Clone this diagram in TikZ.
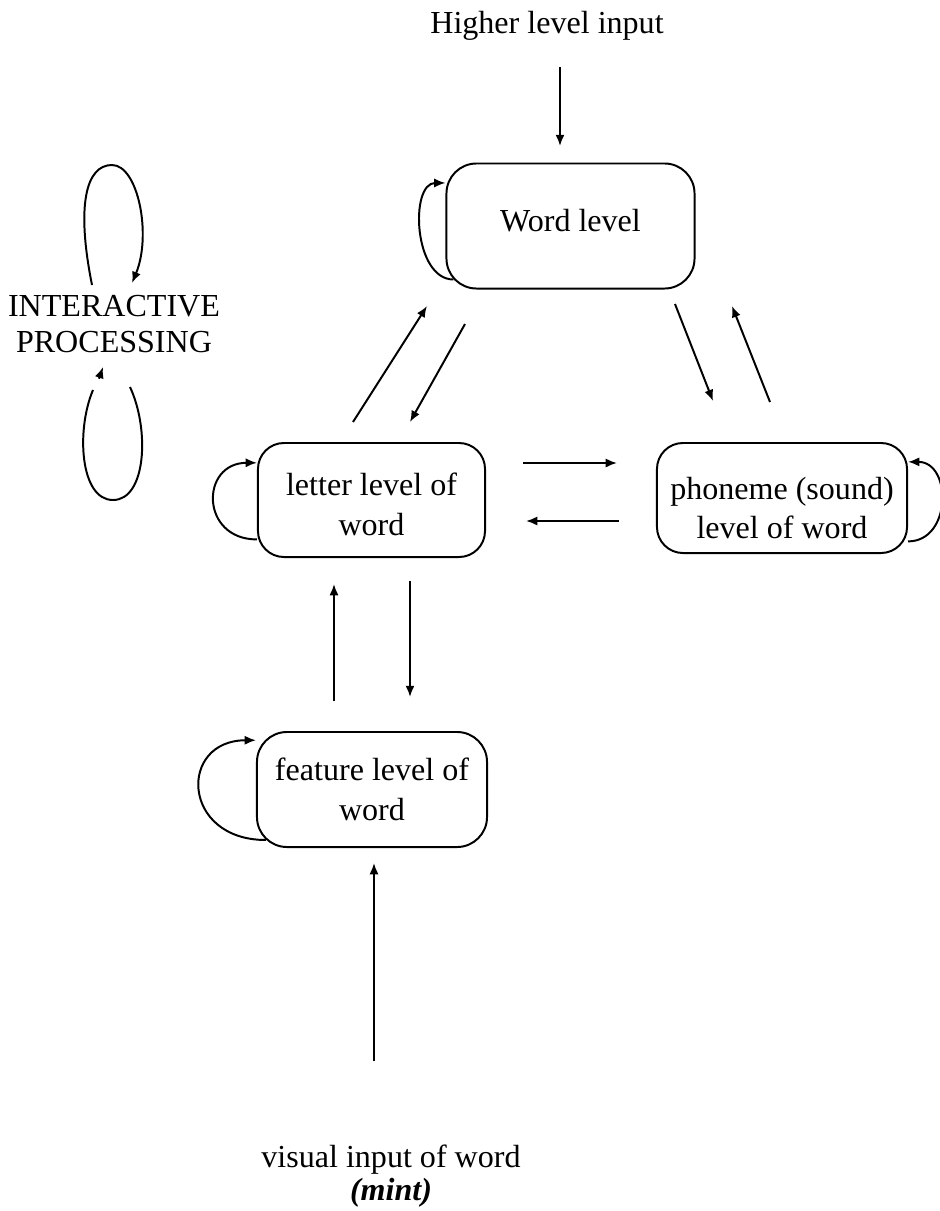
\documentclass[tikz,border=0pt]{standalone}
\usepackage{fontspec}
\setmainfont{Liberation Serif}
\usetikzlibrary{arrows.meta,calc}

\begin{document}
\begin{tikzpicture}[x=0.025cm, y=-0.025cm, line width=1.4pt,
    font=\fontsize{22.8}{28}\selectfont,
    lvlbox/.style={draw, rounded corners=0.65cm, align=center, inner sep=0pt},
    arr/.style={-{Latex[length=8pt,width=6.5pt]}}]
    \useasboundingbox (0,0) rectangle (940,1211);

    % Boxes for the levels
    \node[lvlbox, minimum width=6.2cm, minimum height=3.125cm, rounded corners=0.75cm, text depth=8pt] (word) at (570.5,226) {Word level};
    \node[lvlbox, minimum width=5.675cm, minimum height=2.85cm, text height=50pt] (letter) at (371.5,500) {letter level of\\word};
    \node[lvlbox, minimum width=6.25cm, minimum height=2.75cm, text height=58pt] (phoneme) at (782,498) {phoneme (sound)\\level of word};
    \node[lvlbox, minimum width=5.75cm, minimum height=2.875cm, rounded corners=0.75cm] (feature) at (372,789.5) {feature level of\\word};

    % Labels outside the boxes
    \node (higher) at (547,26) {Higher level input};
    \node[align=center, font=\fontsize{22.8}{25}\selectfont] (inter) at (114,324) {INTERACTIVE\\PROCESSING};
    \node[align=center, font=\fontsize{22.8}{24}\selectfont] (visual) at (391,1176) {visual input of word\\\textbf{\textit{(mint)}}};

    % Arrows between levels
    \draw[arr] ($(word.north)+(-10.5,-95.5)$) -- ($(word.north)+(-10.5,-16.5)$);
    \draw[arr] ($(letter.north)+(-18.5,-20)$) -- ($(word.south)+(-143.5,16.5)$);
    \draw[arr] ($(word.south)+(-105.5,34.5)$) -- ($(letter.north)+(38.5,-20)$);
    \draw[arr] ($(word.south)+(104.5,14.5)$) -- ($(phoneme.north)+(-69,-41)$);
    \draw[arr] ($(phoneme.north)+(-12,-40)$) -- ($(word.south)+(161.5,16.5)$);
    \draw[arr] ($(letter.east)+(37,-37)$) -- ($(phoneme.west)+(-39,-35)$);
    \draw[arr] ($(phoneme.west)+(-37,23)$) -- ($(letter.east)+(40,21)$);
    \draw[arr] ($(feature.north)+(-38,-30)$) -- ($(letter.south)+(-37.5,26)$);
    \draw[arr] ($(letter.south)+(38.5,23)$) -- ($(feature.north)+(38,-34)$);
    \draw[arr] ($(feature.south)+(2,213)$) -- ($(feature.south)+(2,15)$);

    % Loops on each level
    \draw[arr] ($(word.south west)+(8,-10)$) .. controls +(-40,0) and +(-36,0) .. (word.161);
    \draw[arr] (letter.199) .. controls +(-57,0) and +(-57,0) .. (letter.162);
    \draw[arr] ($(feature.south west)+(10,-8)$) .. controls +(-85,0) and +(-78,0) .. (feature.157);
    \draw[arr] (phoneme.341) .. controls +(44,0) and +(44,0) .. (phoneme.16);

    % Interactive processing loops
    \draw[arr] (92,285) .. controls (76,205) and (86,165) .. (112,165) .. controls (138,165) and (152,235) .. (132,283);
    \draw (130,387) .. controls (150,430) and (146,500) .. (113,500) .. controls (80,500) and (76,430) .. (93,390);
    \draw[arr, shorten <=0.3cm] (95,390) -- (103,367);

\end{tikzpicture}
\end{document}
